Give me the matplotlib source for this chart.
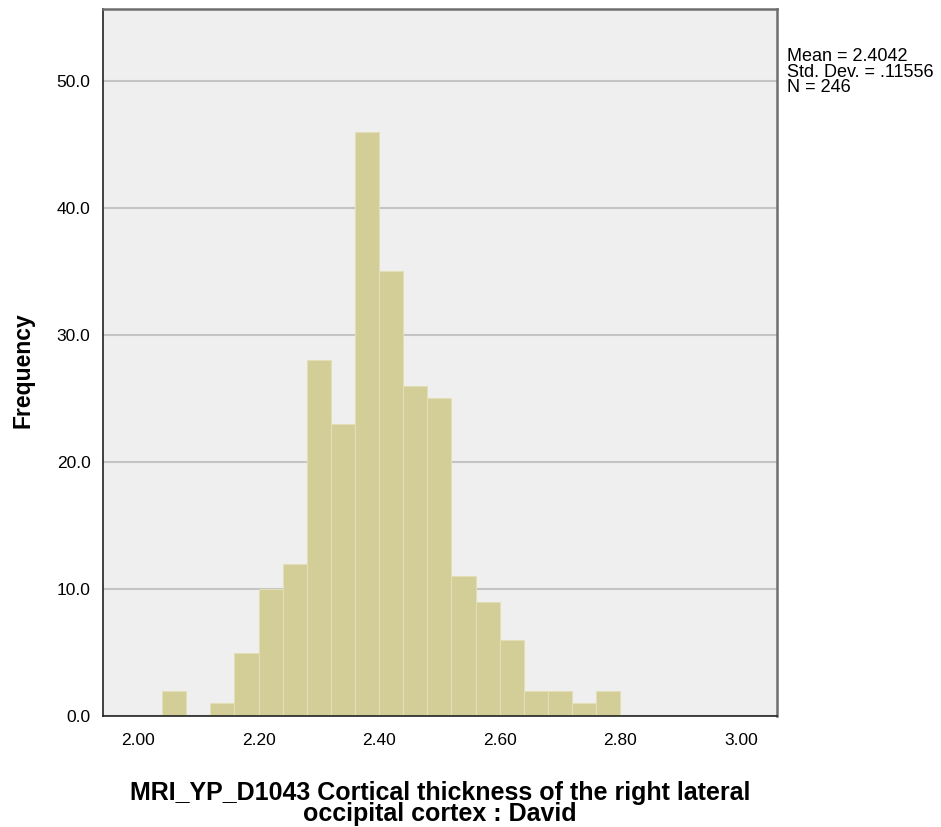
import numpy as np
import matplotlib
matplotlib.use("Agg")
import matplotlib.pyplot as plt

plt.rcParams['font.family'] = ['Liberation Sans', 'DejaVu Sans']

# Histogram bins (left edges) and counts
bin_left = [2.04, 2.08, 2.12, 2.16, 2.20, 2.24, 2.28, 2.32, 2.36, 2.40,
            2.44, 2.48, 2.52, 2.56, 2.60, 2.64, 2.68, 2.72, 2.76]
counts = [2, 0, 1, 5, 10, 12, 28, 23, 46, 35, 26, 25, 11, 9, 6, 2, 2, 1, 2]
bin_width = 0.04

x_ticks = [2.00, 2.20, 2.40, 2.60, 2.80, 3.00]
y_ticks = [0, 10, 20, 30, 40, 50]

stats_text = "Mean = 2.4042\nStd. Dev. = .11556\nN = 246"
x_label = "MRI_YP_D1043 Cortical thickness of the right lateral\noccipital cortex : David"

fig = plt.figure(figsize=(9.41, 8.27), dpi=100)
ax = fig.add_axes([0.1095, 0.1342, 0.7162, 0.8548])
ax.set_facecolor('#efefef')

ax.bar(bin_left, counts, width=bin_width, align='edge',
       color='#d3ce98', edgecolor='#e2deb6', linewidth=0.8, zorder=2)

ax.set_xlim(1.942, 3.060)
ax.set_ylim(0, 55.65)
ax.set_xticks(x_ticks)
ax.set_xticklabels([f"{v:.2f}" for v in x_ticks])
ax.set_yticks(y_ticks)
ax.set_yticklabels([f"{v:.1f}" for v in y_ticks])
ax.tick_params(length=0, labelsize=12.5)
ax.tick_params(axis='x', pad=12)
ax.tick_params(axis='y', pad=9)
ax.yaxis.grid(True, color='#c4c4c4', linewidth=1.5)
ax.set_axisbelow(True)

for side in ['left', 'bottom']:
    ax.spines[side].set_color('#222222')
    ax.spines[side].set_linewidth(1.2)
for side in ['top', 'right']:
    ax.spines[side].set_color('#6e6e6e')
    ax.spines[side].set_linewidth(1.8)

# y label placed in figure coords so it is not cut off
fig.text(0.024, 0.553, "Frequency", fontsize=16.5, fontweight='bold',
         rotation=90, ha='center', va='center')
ax.set_xlabel(x_label, fontsize=18, fontweight='bold', labelpad=24, linespacing=0.85)

fig.text(0.836, 0.942, stats_text, fontsize=13, va='top', ha='left', linespacing=0.9)

fig.savefig("out.png", dpi=100)
